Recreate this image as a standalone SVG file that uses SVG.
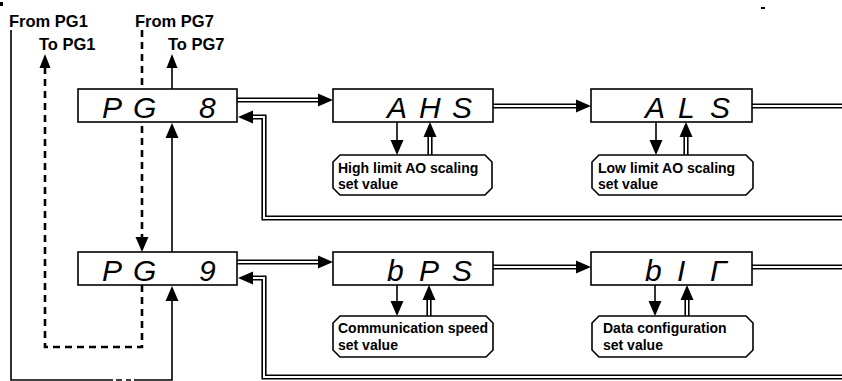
<svg xmlns="http://www.w3.org/2000/svg" xmlns:xlink="http://www.w3.org/1999/xlink" width="842" height="381" viewBox="0 0 842 381">
<style>
.bg{fill:#fff}
.box{fill:#fff;stroke:#000;stroke-width:1.6}
.lbl{fill:#fff;stroke:#000;stroke-width:1.6}
.seg{font-family:"Liberation Sans","DejaVu Sans",sans-serif;font-style:italic;font-size:30px;fill:#000}
.t{font-family:"Liberation Sans",Arial,sans-serif;font-weight:bold;font-size:14px;fill:#000}
.hdr{font-family:"Liberation Sans",Arial,sans-serif;font-weight:bold;font-size:16.5px;fill:#000}
.o{fill:none;stroke:#000;stroke-width:5.2;stroke-linejoin:miter}
.i{fill:none;stroke:#fff;stroke-width:2;stroke-linejoin:miter}
.s{fill:none;stroke:#000;stroke-width:1.6}
.dash{fill:none;stroke:#000;stroke-width:2.6;stroke-dasharray:7 5}
.head{fill:#000}
</style>
<defs>
<path id="ah" d="M0,0 L-15,-6.5 L-15,6.5 Z"/>
<path id="ahs" d="M0,0 L-14,-5.5 L-14,5.5 Z"/>
<path id="d1" d="M237,100 H322"/>
<path id="d2" d="M493,106 H580"/>
<path id="d3" d="M752,106 H843"/>
<path id="d4" d="M843,218 H264 V117 H250"/>
<path id="d5" d="M237,262 H322"/>
<path id="d6" d="M493,267 H580"/>
<path id="d7" d="M752,267 H843"/>
<path id="d8" d="M843,377 H264 V278 H250"/>
<path id="d9" d="M430,156 V133"/>
<path id="d10" d="M686,156 V133"/>
<path id="d11" d="M429,317 V296"/>
<path id="d12" d="M687,317 V296"/>
</defs>
<rect class="bg" x="0" y="0" width="842" height="381"/>
<rect x="0" y="2" width="3" height="4" fill="#000"/>
<rect x="761" y="7" width="4" height="2" fill="#000"/>

<g id="connectors">
  <!-- left side flow lines -->
  <path class="s" d="M11,30 V380 H113"/>
  <path class="s" d="M116,380 H122 M126,380 H131"/>
  <path class="s" d="M134,380 H172 V298"/>
  <path class="s" d="M172,252 V135"/>
  <path class="s" d="M172,89 V66"/>
  <path class="dash" d="M142,30 V240"/>
  <path class="dash" d="M142,285 V347 H45 V66"/>
  <use xlink:href="#ah" class="head" transform="translate(172,286) rotate(-90)"/>
  <use xlink:href="#ah" class="head" transform="translate(172,123) rotate(-90)"/>
  <use xlink:href="#ahs" class="head" transform="translate(172,54) rotate(-90)"/>
  <use xlink:href="#ah" class="head" transform="translate(142,252) rotate(90)"/>
  <use xlink:href="#ahs" class="head" transform="translate(45,54) rotate(-90)"/>

  <!-- double lines -->
  <use xlink:href="#d1" class="o"/><use xlink:href="#d1" class="i"/>
  <use xlink:href="#d2" class="o"/><use xlink:href="#d2" class="i"/>
  <use xlink:href="#d3" class="o"/><use xlink:href="#d3" class="i"/>
  <use xlink:href="#d4" class="o"/><use xlink:href="#d4" class="i"/>
  <use xlink:href="#d5" class="o"/><use xlink:href="#d5" class="i"/>
  <use xlink:href="#d6" class="o"/><use xlink:href="#d6" class="i"/>
  <use xlink:href="#d7" class="o"/><use xlink:href="#d7" class="i"/>
  <use xlink:href="#d8" class="o"/><use xlink:href="#d8" class="i"/>
  <use xlink:href="#d9" class="o"/><use xlink:href="#d9" class="i"/>
  <use xlink:href="#d10" class="o"/><use xlink:href="#d10" class="i"/>
  <use xlink:href="#d11" class="o"/><use xlink:href="#d11" class="i"/>
  <use xlink:href="#d12" class="o"/><use xlink:href="#d12" class="i"/>
  <use xlink:href="#ah" class="head" transform="translate(333,100)"/>
  <use xlink:href="#ah" class="head" transform="translate(591,106)"/>
  <use xlink:href="#ah" class="head" transform="translate(238,117) rotate(180)"/>
  <use xlink:href="#ah" class="head" transform="translate(333,262)"/>
  <use xlink:href="#ah" class="head" transform="translate(591,267)"/>
  <use xlink:href="#ah" class="head" transform="translate(238,278) rotate(180)"/>
  <use xlink:href="#ah" class="head" transform="translate(430,122) rotate(-90)"/>
  <use xlink:href="#ah" class="head" transform="translate(686,122) rotate(-90)"/>
  <use xlink:href="#ah" class="head" transform="translate(429,285) rotate(-90)"/>
  <use xlink:href="#ah" class="head" transform="translate(687,285) rotate(-90)"/>

  <!-- single down arrows to set values -->
  <path class="s" d="M397,122 V143"/>
  <path class="s" d="M656,122 V143"/>
  <path class="s" d="M397,285 V304"/>
  <path class="s" d="M655,285 V304"/>
  <use xlink:href="#ah" class="head" transform="translate(397,155) rotate(90)"/>
  <use xlink:href="#ah" class="head" transform="translate(656,155) rotate(90)"/>
  <use xlink:href="#ah" class="head" transform="translate(397,316) rotate(90)"/>
  <use xlink:href="#ah" class="head" transform="translate(655,316) rotate(90)"/>
</g>

<g id="labels">
  <text class="hdr" x="9" y="27">From PG1</text>
  <text class="hdr" x="39" y="50">To PG1</text>
  <text class="hdr" x="135" y="27">From PG7</text>
  <text class="hdr" x="168" y="50">To PG7</text>
</g>

<g id="pg8">
  <rect class="box" x="78" y="89" width="159" height="33"/>
  <text class="seg" x="102 133 166 199" y="118">PG 8</text>
</g>
<g id="ahs-node">
  <rect class="box" x="333" y="89" width="160" height="33"/>
  <text class="seg" x="387 419 452" y="118">AHS</text>
</g>
<g id="als-node">
  <rect class="box" x="591" y="89" width="161" height="33"/>
  <text class="seg" x="645 678 710" y="118">ALS</text>
</g>
<g id="pg9">
  <rect class="box" x="78" y="252" width="159" height="33"/>
  <text class="seg" x="102 133 166 199" y="281">PG 9</text>
</g>
<g id="bps-node">
  <rect class="box" x="333" y="252" width="160" height="33"/>
  <text class="seg" x="387 419 452" y="281">bPS</text>
</g>
<g id="bir-node">
  <rect class="box" x="591" y="252" width="161" height="33"/>
  <text class="seg" x="645 677 710" y="281">bIΓ</text>
</g>

<g id="ahs-value">
  <path class="lbl" d="M340,155 H485 L492,162 V188 L485,195 H340 L333,188 V162 Z"/>
  <text class="t" x="338" y="172.5">High limit AO scaling</text>
  <text class="t" x="338" y="189">set value</text>
</g>
<g id="als-value">
  <path class="lbl" d="M599,155 H746 L753,162 V188 L746,195 H599 L592,188 V162 Z"/>
  <text class="t" x="598" y="172.5">Low limit AO scaling</text>
  <text class="t" x="598" y="189">set value</text>
</g>
<g id="bps-value">
  <path class="lbl" d="M340,316 H486 L493,323 V350 L486,357 H340 L333,350 V323 Z"/>
  <text class="t" x="338" y="333">Communication speed</text>
  <text class="t" x="338" y="349.5">set value</text>
</g>
<g id="bir-value">
  <path class="lbl" d="M599,316 H746 L753,323 V350 L746,357 H599 L592,350 V323 Z"/>
  <text class="t" x="603" y="333">Data configuration</text>
  <text class="t" x="603" y="349.5">set value</text>
</g>
</svg>
